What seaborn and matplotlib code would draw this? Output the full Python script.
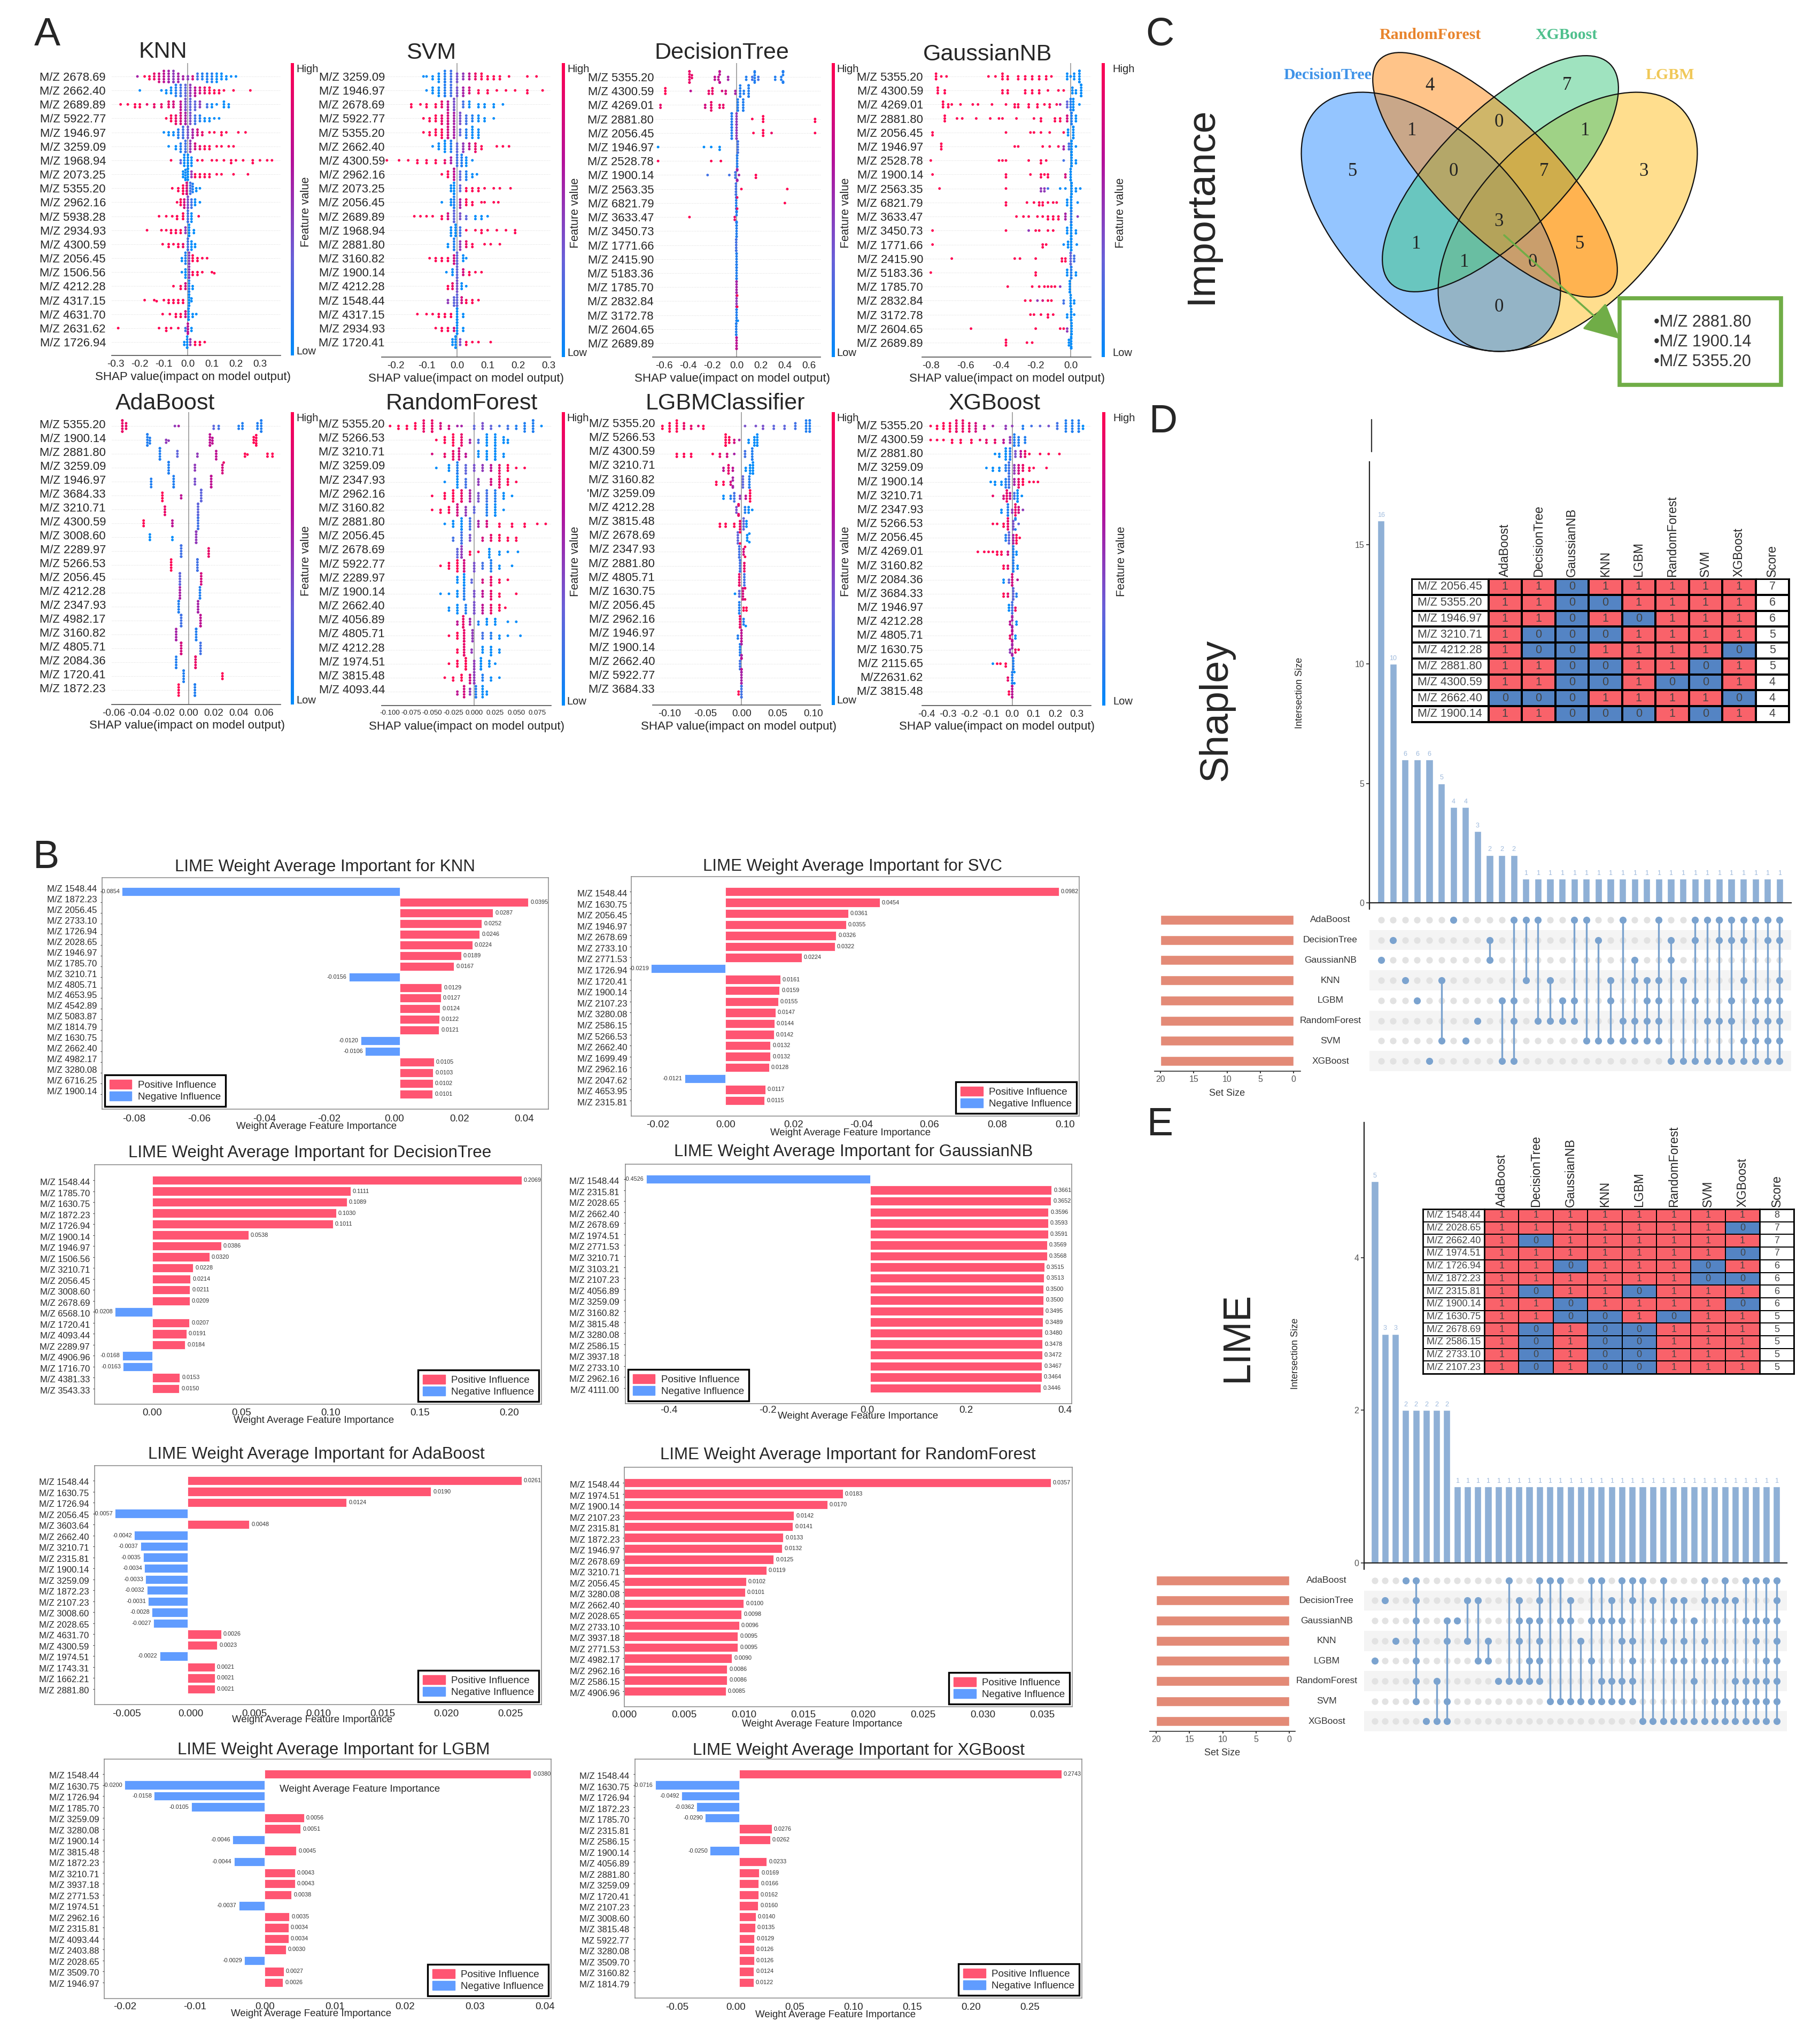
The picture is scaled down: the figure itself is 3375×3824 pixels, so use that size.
import warnings
import numpy as np
import pandas as pd
import matplotlib
matplotlib.use("Agg")
import matplotlib.pyplot as plt
import seaborn as sns
from matplotlib.colors import LinearSegmentedColormap, ListedColormap
from matplotlib.patches import Ellipse, Patch, Rectangle
from matplotlib.transforms import ScaledTranslation

warnings.filterwarnings("ignore")

W, H = 3375, 3824

# Panel A: SHAP rows as (shap value, number of dots, feature value)
knn_shap_labels = ["M/Z 2678.69", "M/Z 2662.40", "M/Z 2689.89", "M/Z 5922.77", "M/Z 1946.97", "M/Z 3259.09", "M/Z 1968.94", "M/Z 2073.25", "M/Z 5355.20", "M/Z 2962.16", "M/Z 5938.28", "M/Z 2934.93", "M/Z 4300.59", "M/Z 2056.45", "M/Z 1506.56", "M/Z 4212.28", "M/Z 4317.15", "M/Z 4631.70", "M/Z 2631.62", "M/Z 1726.94"]
knn_shap_rows = [
    [(-.21,1,.6),(-.18,1,1),(-.16,2,1),(-.14,3,.9),(-.12,4,.8),(-.10,5,.7),(-.08,6,.6),(-.06,6,.5),(-.04,4,.6),(-.02,2,.6),(0,2,.5),(.02,2,.8),(.04,3,.2),(.06,3,.1),(.08,4,.1),(.10,4,.1),(.12,4,0),(.14,3,0),(.16,2,0),(.18,1,0),(.2,1,0)],
    [(-.2,1,0),(-.11,1,0),(-.09,2,0),(-.07,3,0),(-.05,5,.1),(-.03,6,.2),(-.01,5,.3),(.01,5,.5),(.03,4,.7),(.05,3,.8),(.07,3,.9),(.09,3,1),(.11,2,1),(.13,2,1),(.15,1,1),(.19,1,1),(.26,1,1)],
    [(-.28,1,1),(-.25,1,1),(-.22,2,1),(-.2,2,1),(-.17,1,.9),(-.14,2,.9),(-.11,2,.9),(-.08,3,.9),(-.06,3,.8),(-.03,4,.7),(-.01,6,.4),(.01,5,.3),(.03,4,.3),(.05,3,.5),(.08,2,.2),(.1,2,0),(.12,1,0),(.15,3,0),(.17,2,0)],
    [(-.09,1,1),(-.07,3,1),(-.05,4,.9),(-.03,5,.8),(-.01,6,.6),(.01,5,.4),(.03,4,.2),(.05,3,.1),(.07,2,0),(.09,2,0),(.11,1,0),(.13,1,0)],
    [(-.1,1,0),(-.08,2,0),(-.06,2,0),(-.04,4,.1),(-.02,6,.2),(0,5,.4),(.02,4,.6),(.04,3,.8),(.06,2,.9),(.09,1,1),(.11,1,1),(.14,2,1),(.16,1,1),(.21,1,1),(.24,1,1)],
    [(-.08,1,0),(-.05,2,0),(-.03,4,.1),(-.01,6,.2),(.01,5,.5),(.03,3,.8),(.05,2,.9),(.07,2,1),(.09,2,1),(.12,1,1),(.14,1,1),(.17,1,1),(.19,1,1)],
    [(-.07,1,1),(-.03,2,.3),(-.015,5,0),(0,6,0),(.015,4,0),(.04,1,1),(.06,1,1),(.1,1,1),(.12,1,1),(.15,1,1),(.18,2,1),(.2,1,1),(.23,1,1),(.27,2,1),(.3,1,1),(.33,1,1),(.35,1,1)],
    [(-.02,3,0),(-.01,5,0),(0,6,0),(.015,3,.5),(.03,2,1),(.05,2,1),(.07,2,1),(.09,2,1),(.12,1,1),(.14,1,1),(.19,1,1),(.25,1,1)],
    [(-.065,1,1),(-.04,2,1),(-.02,4,1),(-.005,6,.8),(.01,5,.2),(.02,4,.1),(.035,2,0),(.05,1,0)],
    [(-.045,1,1),(-.03,3,1),(-.015,4,.8),(0,6,.4),(.015,4,.2),(.03,3,0),(.05,1,0)],
    [(-.12,1,1),(-.09,1,1),(-.065,1,1),(-.045,2,1),(-.02,3,1),(0,6,.2),(.015,4,0),(.045,1,1)],
    [(-.17,1,1),(-.11,1,1),(-.09,1,1),(-.07,2,1),(-.05,2,1),(-.03,2,1),(-.01,3,.5),(.005,6,0),(.025,2,0)],
    [(-.105,1,1),(-.08,2,1),(-.06,1,1),(-.04,2,1),(-.02,2,.9),(0,6,.2),(.015,4,0),(.03,2,0)],
    [(-.025,2,0),(-.01,5,.1),(.005,6,.5),(.02,3,1),(.04,2,1),(.06,1,1),(.08,1,1)],
    [(-.025,1,0),(-.01,4,0),(.005,6,.5),(.02,2,1),(.04,2,1),(.06,1,1),(.1,1,1),(.11,1,1)],
    [(-.06,1,1),(-.03,2,1),(-.01,3,.8),(.005,6,.1),(.02,2,0)],
    [(-.18,1,1),(-.14,1,1),(-.13,1,1),(-.1,1,1),(-.08,2,1),(-.06,2,1),(-.04,2,1),(-.02,2,1),(.005,7,0),(.015,2,0)],
    [(-.105,1,1),(-.075,1,1),(-.05,2,1),(-.03,2,1),(-.01,3,.8),(.003,6,0),(.02,2,0),(.035,1,0)],
    [(-.29,1,1),(-.12,1,1),(-.09,2,1),(-.07,1,1),(-.04,1,1),(-.01,2,.2),(0,5,.7),(.015,2,0)],
    [(-.015,2,0),(-.003,6,0),(.01,3,.5),(.03,2,1),(.05,2,1),(.07,1,1)],
]
svm_shap_labels = ["M/Z 3259.09", "M/Z 1946.97", "M/Z 2678.69", "M/Z 5922.77", "M/Z 5355.20", "M/Z 2662.40", "M/Z 4300.59", "M/Z 2962.16", "M/Z 2073.25", "M/Z 2056.45", "M/Z 2689.89", "M/Z 1968.94", "M/Z 2881.80", "M/Z 3160.82", "M/Z 1900.14", "M/Z 4212.28", "M/Z 1548.44", "M/Z 4317.15", "M/Z 2934.93", "M/Z 1720.41"]
svm_shap_rows = [
    [(-.11,1,0),(-.1,1,0),(-.08,2,0),(-.06,4,0),(-.04,6,.1),(-.02,5,.2),(0,4,.4),(.02,3,.5),(.04,3,.7),(.06,3,.9),(.08,3,1),(.1,2,1),(.12,2,1),(.14,2,1),(.17,1,1),(.23,1,1),(.26,1,1)],
    [(-.1,1,0),(-.08,3,0),(-.06,4,0),(-.04,6,.1),(-.02,5,.2),(0,4,.4),(.02,4,.6),(.04,3,.8),(.07,2,1),(.1,2,1),(.13,1,1),(.16,1,1),(.19,1,1),(.23,2,1),(.28,1,1)],
    [(-.15,2,1),(-.12,1,1),(-.1,2,1),(-.07,2,1),(-.05,3,.9),(-.03,4,.7),(-.01,6,.4),(.02,3,.2),(.04,3,0),(.07,2,0),(.09,2,0),(.12,2,0),(.15,1,0)],
    [(-.11,1,1),(-.09,2,1),(-.07,3,1),(-.05,4,.9),(-.03,6,.8),(-.01,5,.6),(.01,5,.4),(.03,4,.2),(.05,3,.1),(.07,3,0),(.09,2,0),(.12,1,0)],
    [(-.11,1,1),(-.09,2,1),(-.07,3,1),(-.05,4,1),(-.03,6,.8),(-.01,5,.6),(.01,3,.3),(.03,4,.1),(.05,5,0),(.07,4,0)],
    [(-.08,1,0),(-.06,3,0),(-.04,5,0),(-.02,5,.1),(0,4,.3),(.02,4,.5),(.04,3,.7),(.06,4,.9),(.08,2,1),(.13,1,1),(.15,1,1),(.17,1,1)],
    [(-.23,1,1),(-.19,1,1),(-.16,1,1),(-.13,2,1),(-.1,2,1),(-.07,2,1),(-.04,2,.9),(-.02,3,.6),(0,5,.2),(.015,6,.1),(.03,4,0),(.05,1,0)],
    [(-.05,1,1),(-.03,3,1),(-.01,5,.7),(.01,4,.3),(.03,4,.1),(.05,2,0),(.065,1,0)],
    [(-.02,3,0),(-.01,6,0),(.01,3,.3),(.03,2,1),(.05,2,1),(.07,2,1),(.09,1,1),(.12,1,1),(.14,1,1),(.175,1,1)],
    [(-.05,1,0),(-.02,3,0),(-.01,6,.1),(.01,4,.6),(.03,3,1),(.05,2,1),(.08,1,1),(.09,1,1),(.12,1,1),(.135,1,1)],
    [(-.14,1,1),(-.12,1,1),(-.1,1,1),(-.08,1,1),(-.05,2,1),(-.03,3,.8),(-.01,6,.3),(.01,3,.4),(.03,2,.3),(.06,2,0),(.08,2,0),(.1,1,0)],
    [(-.02,4,0),(-.005,6,0),(.01,4,.2),(.03,1,1),(.06,1,1),(.08,2,1),(.1,1,1),(.13,1,1),(.16,1,1),(.19,2,1)],
    [(-.03,2,0),(-.01,6,.1),(.01,4,.5),(.03,3,.9),(.05,2,1),(.09,1,1),(.11,1,1),(.14,1,1)],
    [(-.09,1,1),(-.07,2,1),(-.05,2,1),(-.03,2,1),(-.01,4,.8),(0,6,.3),(.02,3,0),(.03,1,0)],
    [(-.035,1,0),(-.015,3,0),(0,6,.3),(.02,3,.8),(.04,2,1),(.06,1,1),(.08,1,1)],
    [(-.03,2,1),(-.015,3,.9),(0,5,.4),(.015,3,0),(.03,1,0)],
    [(-.03,2,.5),(-.01,4,.3),(0,6,.3),(.015,3,.8),(.03,2,1),(.05,2,1),(.07,1,1)],
    [(-.13,1,1),(-.1,1,1),(-.08,1,1),(-.06,2,1),(-.04,2,1),(-.02,2,1),(0,7,0),(.02,2,0)],
    [(-.07,1,1),(-.05,2,1),(-.03,2,1),(-.01,2,.8),(0,7,0),(.02,2,0)],
    [(-.015,3,0),(-.005,7,0),(.01,3,.4),(.03,2,1),(.05,1,1),(.07,1,1),(.11,1,1)],
]
dt_shap_labels = ["M/Z 5355.20", "M/Z 4300.59", "M/Z 4269.01", "M/Z 2881.80", "M/Z 2056.45", "M/Z 1946.97", "M/Z 2528.78", "M/Z 1900.14", "M/Z 2563.35", "M/Z 6821.79", "M/Z 3633.47", "M/Z 3450.73", "M/Z 1771.66", "M/Z 2415.90", "M/Z 5183.36", "M/Z 1785.70", "M/Z 2832.84", "M/Z 3172.78", "M/Z 2604.65", "M/Z 2689.89"]
dt_shap_rows = [
    [(-.39,7,.9),(-.37,2,.9),(-.18,2,.7),(-.15,2,.7),(-.14,6,.7),(-.07,2,.6),(.08,2,.1),(.13,2,.2),(.15,6,.1),(.18,2,.2),(.32,2,.1),(.37,2,.1),(.385,7,.1)],
    [(-.59,3,1),(-.38,1,.7),(-.23,2,.9),(-.2,3,.9),(-.12,1,.8),(-.09,2,.8),(-.01,2,.6),(.03,6,.1),(.06,2,.1),(.1,7,.1)],
    [(-.63,2,.9),(-.26,2,.8),(-.21,4,.9),(-.14,2,.9),(-.11,2,.9),(.01,6,.1),(.055,6,.1)],
    [(-.04,7,.1),(0,6,.5),(.13,1,1),(.22,3,1),(.65,2,1)],
    [(-.04,7,.1),(0,6,.5),(.14,1,1),(.22,3,1),(.29,1,.9),(.65,1,1)],
    [(-.65,1,0),(-.27,1,0),(-.21,1,0),(-.14,2,0),(.01,7,.2)],
    [(-.65,1,1),(-.21,1,1),(-.13,1,1),(.005,7,.1)],
    [(-.24,1,.2),(-.06,1,.2),(-.01,3,.2),(.005,7,.6),(.02,1,.6),(.16,2,1)],
    [(-.005,6,.2),(.04,1,1),(.42,1,1)],
    [(-.003,7,.1),(.005,2,.9),(.4,1,1)],
    [(-.39,1,1),(-.015,2,.9),(0,7,.1)],
    [(0,7,.1)],
    [(-.003,7,.2)],
    [(0,7,.1)],
    [(0,7,.1)],
    [(0,7,.6)],
    [(0,6,.5),(.005,2,1)],
    [(0,7,.1),(.01,1,0)],
    [(-.003,7,.1)],
    [(0,7,.7)],
]
nb_shap_labels = ["M/Z 5355.20", "M/Z 4300.59", "M/Z 4269.01", "M/Z 2881.80", "M/Z 2056.45", "M/Z 1946.97", "M/Z 2528.78", "M/Z 1900.14", "M/Z 2563.35", "M/Z 6821.79", "M/Z 3633.47", "M/Z 3450.73", "M/Z 1771.66", "M/Z 2415.90", "M/Z 5183.36", "M/Z 1785.70", "M/Z 2832.84", "M/Z 3172.78", "M/Z 2604.65", "M/Z 2689.89"]
nb_shap_rows = [
    [(-.77,3,1),(-.74,1,1),(-.71,1,1),(-.47,1,1),(-.43,1,1),(-.39,3,1),(-.36,2,1),(-.3,2,1),(-.26,2,1),(-.22,2,1),(-.18,2,1),(-.14,2,1),(-.11,1,1),(-.02,3,0),(0,1,0),(.02,3,0),(.05,7,0)],
    [(-.76,3,1),(-.72,2,1),(-.39,2,1),(-.36,2,1),(-.26,2,1),(-.22,2,1),(-.18,2,1),(-.13,1,1),(-.07,1,1),(-.04,1,1),(.01,3,0),(.03,2,0),(.06,7,0)],
    [(-.73,3,1),(-.7,2,1),(-.68,1,1),(-.63,1,1),(-.56,1,1),(-.53,1,1),(-.45,1,1),(-.37,1,1),(-.32,2,1),(-.3,2,1),(-.24,2,1),(-.19,2,1),(-.15,1,1),(-.12,2,1),(-.08,1,1),(-.06,1,.6),(-.02,3,.3),(0,5,.1),(.015,6,0),(.05,1,0)],
    [(-.72,3,1),(-.65,1,1),(-.62,1,1),(-.54,1,1),(-.46,1,1),(-.41,1,1),(-.39,1,1),(-.31,1,1),(-.21,1,1),(-.17,2,1),(-.09,2,1),(-.06,2,1),(-.02,3,.8),(.005,7,.1),(.03,3,0)],
    [(-.79,2,1),(-.37,1,1),(-.23,1,1),(-.21,1,1),(-.17,1,1),(-.12,1,1),(-.04,1,1),(-.015,3,0),(.015,7,0)],
    [(-.74,3,1),(-.32,1,1),(-.3,1,1),(-.16,1,1),(-.12,1,1),(-.07,1,1),(-.04,2,.6),(-.01,3,.2),(.005,7,0),(.03,1,0)],
    [(-.8,1,1),(-.41,1,1),(-.39,1,1),(-.37,1,1),(-.24,1,1),(-.17,2,1),(-.14,1,1),(-.04,1,.2),(.005,7,0),(.03,2,0)],
    [(-.79,1,1),(-.37,2,1),(-.23,1,1),(-.17,2,1),(-.15,1,1),(-.13,2,1),(-.03,2,.8),(0,6,0)],
    [(-.75,1,1),(-.37,1,1),(-.17,2,.5),(-.15,2,.5),(-.13,1,.2),(-.06,1,0),(-.03,1,0),(.005,7,0),(.03,2,0),(.055,1,0)],
    [(-.37,2,1),(-.25,1,1),(-.21,1,1),(-.18,2,1),(-.16,2,1),(-.13,1,1),(-.1,1,1),(-.08,1,1),(-.02,3,0),(.003,7,0),(.04,1,0)],
    [(-.31,1,1),(-.27,1,1),(-.24,1,1),(-.19,1,1),(-.16,1,1),(-.13,2,1),(-.1,2,1),(-.07,2,1),(-.03,3,.6),(.003,7,.1),(.04,1,.5)],
    [(-.79,1,1),(-.37,1,1),(-.24,1,.5),(-.2,1,1),(-.18,1,1),(-.13,1,1),(-.1,1,1),(-.02,3,0),(.003,7,0),(.03,2,0)],
    [(-.79,1,1),(-.16,2,1),(-.14,1,1),(-.04,1,0),(-.015,3,0),(.003,7,0),(.035,1,0)],
    [(-.68,1,1),(-.32,1,1),(-.29,1,1),(-.2,1,1),(-.05,2,1),(-.03,2,1),(0,7,.3),(.02,3,.2)],
    [(-.8,1,1),(-.2,2,1),(-.02,3,0),(.003,7,.1),(.03,2,0)],
    [(-.36,1,1),(-.22,1,1),(-.18,1,1),(-.15,1,1),(-.13,1,1),(-.11,1,1),(-.09,1,1),(-.06,1,.5),(-.005,6,0)],
    [(-.26,1,1),(-.23,1,1),(-.19,1,.5),(-.16,1,.8),(-.13,1,1),(-.11,1,1),(-.04,2,.2),(0,6,0),(.02,2,0)],
    [(-.23,1,1),(-.21,1,1),(-.17,1,1),(-.13,2,1),(-.1,1,1),(-.02,2,0),(.003,6,0),(.02,1,0)],
    [(-.57,1,1),(-.2,1,1),(-.06,1,1),(-.04,1,1),(-.02,2,.5),(.005,6,0)],
    [(-.37,3,1),(-.25,1,1),(-.22,1,1),(-.01,3,0),(.003,7,0)],
]
ada_shap_labels = ["M/Z 5355.20", "M/Z 1900.14", "M/Z 2881.80", "M/Z 3259.09", "M/Z 1946.97", "M/Z 3684.33", "M/Z 3210.71", "M/Z 4300.59", "M/Z 3008.60", "M/Z 2289.97", "M/Z 5266.53", "M/Z 2056.45", "M/Z 4212.28", "M/Z 2347.93", "M/Z 4982.17", "M/Z 3160.82", "M/Z 4805.71", "M/Z 2084.36", "M/Z 1720.41", "M/Z 1872.23"]
ada_shap_rows = [
    [(-.053,7,.9),(-.05,3,.9),(-.011,1,.5),(-.008,1,.6),(.02,2,.3),(.024,2,.2),(.04,2,.1),(.043,3,.1),(.055,3,.1),(.058,7,.1)],
    [(-.033,7,.1),(-.031,3,.1),(-.018,2,.5),(-.016,1,.5),(.017,6,.7),(.019,3,.7),(.052,3,1),(.054,5,1)],
    [(-.023,7,.1),(-.009,3,.3),(.007,2,.5),(.022,4,.7),(.045,2,1),(.047,1,1),(.063,2,1),(.067,2,1)],
    [(-.016,7,.1),(.005,3,.5),(.027,4,.8),(.028,1,.9)],
    [(-.03,4,.1),(-.012,6,.1),(.005,3,.4),(.018,7,.7)],
    [(-.021,4,1),(-.006,2,.7),(.01,7,.3)],
    [(-.019,4,.9),(.0075,7,.3)],
    [(-.036,3,1),(-.013,3,.7),(.0075,7,.2)],
    [(-.031,3,0),(-.013,2,0),(.006,7,.5)],
    [(-.006,7,.2),(.016,4,.9)],
    [(-.014,5,1),(.007,7,.2)],
    [(-.007,7,.3),(.01,5,.8)],
    [(-.007,6,.6),(.009,6,.1)],
    [(-.008,7,.1),(.0075,6,.6)],
    [(-.006,7,.2),(.0095,6,.7)],
    [(-.01,6,.6),(.006,7,.1)],
    [(-.006,7,.8),(.0095,5,.2)],
    [(-.01,6,.1),(.0055,7,.9)],
    [(-.004,7,.1),(.027,3,1)],
    [(-.008,5,1),(.005,7,.1)],
]
rf_shap_labels = ["M/Z 5355.20", "M/Z 5266.53", "M/Z 3210.71", "M/Z 3259.09", "M/Z 2347.93", "M/Z 2962.16", "M/Z 3160.82", "M/Z 2881.80", "M/Z 2056.45", "M/Z 2678.69", "M/Z 5922.77", "M/Z 2289.97", "M/Z 1900.14", "M/Z 2662.40", "M/Z 4056.89", "M/Z 4805.71", "M/Z 4212.28", "M/Z 1974.51", "M/Z 3815.48", "M/Z 4093.44"]
rf_shap_rows = [
    [(-.1,1,1),(-.09,2,1),(-.08,2,1),(-.07,3,1),(-.06,5,.9),(-.05,6,.9),(-.04,3,.8),(-.03,2,.8),(-.02,1,.6),(-.015,1,.6),(0,2,.3),(.01,3,.4),(.02,2,.3),(.03,1,.2),(.04,2,.2),(.05,2,.1),(.06,4,.1),(.07,7,.1),(.08,1,0)],
    [(-.045,1,1),(-.035,3,1),(-.025,5,1),(-.015,5,.9),(-.005,2,.6),(.005,2,.2),(.015,5,0),(.025,6,0),(.035,3,0),(.04,2,0)],
    [(-.05,1,.8),(-.035,2,.9),(-.025,4,.9),(-.018,5,.8),(-.01,2,.7),(.005,3,0),(.015,4,0),(.025,6,0),(.035,2,0)],
    [(-.045,1,0),(-.03,3,0),(-.02,6,.1),(-.01,4,.3),(0,3,.4),(.01,3,.5),(.02,3,.7),(.03,4,.9),(.04,3,1),(.05,1,1),(.06,1,1)],
    [(-.035,1,0),(-.02,5,0),(-.01,4,.2),(.005,3,.5),(.02,3,.8),(.03,5,.9),(.04,3,1),(.05,1,1)],
    [(-.05,1,1),(-.035,3,1),(-.025,5,1),(-.015,6,.9),(-.005,5,.6),(.005,4,.4),(.015,5,.2),(.025,5,.1),(.035,3,0),(.045,1,0)],
    [(-.05,1,1),(-.04,2,1),(-.03,3,1),(-.02,5,.8),(-.01,4,.5),(0,3,.3),(.015,5,.1),(.025,6,0),(.035,1,0)],
    [(-.035,1,0),(-.025,3,0),(-.015,6,0),(-.005,5,.2),(.005,3,.6),(.015,3,.8),(.03,2,1),(.045,2,1),(.06,2,1),(.075,1,1),(.085,1,1)],
    [(-.025,2,.2),(-.015,6,.2),(-.005,3,.4),(.01,2,.8),(.02,3,.9),(.03,3,1),(.04,2,1),(.05,2,1)],
    [(-.02,4,.3),(-.015,6,.5),(-.005,2,1),(.005,1,1),(.018,4,0),(.03,2,0),(.04,1,0),(.052,1,0)],
    [(-.04,1,1),(-.03,3,1),(-.02,5,1),(-.012,6,.8),(0,4,.4),(.01,3,.2),(.02,5,.1),(.03,2,0),(.045,1,0)],
    [(-.02,3,0),(-.012,6,0),(-.003,2,.3),(.01,2,.8),(.02,4,.9),(.03,2,1),(.04,1,1)],
    [(-.04,1,0),(-.03,1,0),(-.02,3,0),(-.012,6,.1),(0,3,.4),(.01,3,.7),(.02,4,.9),(.03,2,1),(.05,1,1)],
    [(-.03,2,0),(-.02,4,0),(-.01,4,.1),(0,6,.4),(.01,4,.7),(.02,4,.9),(.03,3,1),(.037,1,1)],
    [(-.02,2,.7),(-.013,6,.9),(-.005,3,.6),(.005,2,.1),(.015,3,0),(.025,3,0),(.04,1,0),(.05,1,0)],
    [(-.03,1,1),(-.02,3,1),(-.012,6,.9),(-.002,5,.5),(.01,3,.2),(.02,3,.1),(.03,2,0),(.04,1,0),(.055,1,0)],
    [(-.02,2,1),(-.012,6,.9),(-.003,2,.5),(.01,3,0),(.02,4,0),(.03,2,0)],
    [(-.03,1,1),(-.02,3,1),(-.01,6,1),(0,4,.5),(.008,6,0),(.018,3,0),(.025,1,0)],
    [(-.035,1,1),(-.025,2,1),(-.015,3,1),(-.005,4,.8),(0,6,.5),(.01,3,.1),(.02,2,0),(.03,1,0)],
    [(-.02,2,.7),(-.012,5,.8),(-.005,3,.5),(.002,6,.1),(.01,5,0),(.015,2,0)],
]
lgbm_shap_labels = ["M/Z 5355.20", "M/Z 5266.53", "M/Z 4300.59", "M/Z 3210.71", "M/Z 3160.82", "'M/Z 3259.09", "M/Z 4212.28", "M/Z 3815.48", "M/Z 2678.69", "M/Z 2347.93", "M/Z 2881.80", "M/Z 4805.71", "M/Z 1630.75", "M/Z 2056.45", "M/Z 2962.16", "M/Z 1946.97", "M/Z 1900.14", "M/Z 2662.40", "M/Z 5922.77", "M/Z 3684.33"]
lgbm_shap_rows = [
    [(-.11,2,1),(-.1,4,1),(-.09,5,1),(-.08,3,.9),(-.07,2,.9),(-.06,1,.8),(-.053,2,1),(.005,1,.4),(.02,1,.4),(.03,2,.4),(.045,2,.3),(.06,2,.3),(.075,3,.2),(.09,5,.1),(.095,7,.1)],
    [(-.022,6,1),(-.017,3,1),(-.01,2,.8),(-.003,1,.6),(.01,2,0),(.018,4,0),(.022,6,0)],
    [(-.09,2,1),(-.08,2,1),(-.07,2,1),(-.04,1,1),(-.03,2,.9),(-.02,2,.8),(-.01,1,.6),(.005,3,.2),(.015,6,.1)],
    [(-.025,2,.7),(-.018,4,.9),(-.012,2,.7),(.006,2,0),(.012,4,0),(.016,6,0)],
    [(-.035,2,1),(-.025,2,1),(-.015,2,.8),(-.012,4,.6),(.002,5,.3),(.011,6,.1)],
    [(-.025,2,0),(-.015,2,.1),(-.01,4,.2),(-.002,2,.5),(.006,2,.7),(.012,5,1)],
    [(-.007,3,.4),(-.004,6,.9),(.005,3,.1),(.01,3,0),(.015,1,0)],
    [(-.03,2,1),(-.022,2,1),(-.01,2,1),(-.002,4,.9),(.003,5,.3),(.007,3,0)],
    [(-.005,5,.3),(-.002,2,1),(.008,3,0),(.011,2,0)],
    [(-.003,6,.2),(.003,3,.8),(.005,2,1)],
    [(-.002,7,.2),(.004,4,.9)],
    [(-.003,6,.9),(.004,5,.2)],
    [(-.009,1,0),(-.003,3,.3),(.002,6,.8),(.005,3,.9)],
    [(-.003,6,.1),(.003,2,1),(.007,2,1)],
    [(-.002,6,.9),(.003,3,.1),(.006,1,0)],
    [(-.005,2,.1),(0,6,.7)],
    [(-.002,5,.1),(0,5,.6)],
    [(-.002,4,.2),(0,6,.7)],
    [(0,7,.6)],
    [(-.004,2,1),(0,7,.2)],
]
xgb_shap_labels = ["M/Z 5355.20", "M/Z 4300.59", "M/Z 2881.80", "M/Z 3259.09", "M/Z 1900.14", "M/Z 3210.71", "M/Z 2347.93", "M/Z 5266.53", "M/Z 2056.45", "M/Z 4269.01", "M/Z 3160.82", "M/Z 2084.36", "M/Z 3684.33", "M/Z 1946.97", "M/Z 4212.28", "M/Z 4805.71", "M/Z 1630.75", "M/Z 2115.65", "M/Z2631.62", "M/Z 3815.48"]
xgb_shap_rows = [
    [(-.38,1,1),(-.35,2,1),(-.32,3,1),(-.29,4,1),(-.26,6,.9),(-.23,5,.9),(-.2,4,.9),(-.17,4,.8),(-.13,2,.7),(-.09,1,.6),(-.03,2,.5),(0,1,.5),(.05,2,.1),(.09,1,.2),(.13,1,.3),(.17,1,.4),(.21,3,.2),(.25,5,.1),(.28,6,.1),(.31,6,.1),(.33,2,0)],
    [(-.38,1,1),(-.35,1,1),(-.32,1,1),(-.28,2,1),(-.24,2,1),(-.19,2,1),(-.15,1,.9),(-.12,2,.9),(-.08,2,.9),(-.04,2,.7),(-.01,3,.5),(.01,6,.1),(.03,4,.1),(.06,3,.1)],
    [(-.08,1,0),(-.06,2,0),(-.03,5,0),(-.01,6,.1),(.015,3,.4),(.04,3,.7),(.06,3,.9),(.08,1,1),(.13,1,1),(.17,1,1),(.22,1,1)],
    [(-.12,1,0),(-.09,2,0),(-.06,2,0),(-.03,3,.1),(-.015,6,.2),(.01,4,.5),(.03,4,.8),(.05,3,.9),(.08,2,1),(.1,1,1),(.16,1,1)],
    [(-.1,1,0),(-.08,2,0),(-.05,2,0),(-.03,4,.1),(-.015,6,.2),(.01,3,.6),(.03,4,.9),(.05,3,1),(.08,1,1),(.1,1,1),(.12,1,1)],
    [(-.09,1,.9),(-.04,2,.8),(-.025,5,.9),(-.01,3,.7),(.01,3,.2),(.025,6,0),(.045,1,0)],
    [(-.05,2,0),(-.02,6,.1),(0,2,.5),(.015,5,.9),(.03,3,.8),(.05,1,.5)],
    [(-.09,1,1),(-.07,1,1),(-.04,2,1),(-.02,5,.9),(.005,4,.4),(.015,3,.1),(.03,1,.3)],
    [(-.03,3,.1),(-.015,5,.3),(.005,4,.6),(.02,4,1),(.035,1,1)],
    [(-.16,1,1),(-.13,1,1),(-.11,1,1),(-.09,1,1),(-.07,2,1),(-.05,2,1),(-.02,2,.8),(.005,6,.1),(.02,2,0)],
    [(-.04,2,1),(-.02,2,.9),(.005,6,.1),(.025,2,0)],
    [(-.04,2,0),(-.015,2,.3),(0,6,.8),(.025,1,.7)],
    [(-.04,2,1),(-.02,2,.9),(.005,6,.3),(.02,2,.1)],
    [(-.015,3,0),(0,5,.2),(.015,2,.9)],
    [(-.01,2,.7),(0,6,.6),(.02,2,0)],
    [(-.01,2,.9),(0,6,.7),(.015,2,0)],
    [(-.01,2,.5),(0,6,.6),(.015,2,.9),(.03,1,1)],
    [(-.09,1,0),(-.07,1,1),(-.055,1,1),(-.03,2,1),(.005,6,.1)],
    [(-.02,2,.9),(0,6,.1),(.01,2,0)],
    [(-.015,2,1),(0,7,.7)],
]

# Panel B: LIME mean weights
lime_knn_labels = ["M/Z 1548.44", "M/Z 1872.23", "M/Z 2056.45", "M/Z 2733.10", "M/Z 1726.94", "M/Z 2028.65", "M/Z 1946.97", "M/Z 1785.70", "M/Z 3210.71", "M/Z 4805.71", "M/Z 4653.95", "M/Z 4542.89", "M/Z 5083.87", "M/Z 1814.79", "M/Z 1630.75", "M/Z 2662.40", "M/Z 4982.17", "M/Z 3280.08", "M/Z 6716.25", "M/Z 1900.14"]
lime_knn_values = [-0.0854, 0.0395, 0.0287, 0.0252, 0.0246, 0.0224, 0.0189, 0.0167, -0.0156, 0.0129, 0.0127, 0.0124, 0.0122, 0.0121, -0.0120, -0.0106, 0.0105, 0.0103, 0.0102, 0.0101]
lime_svc_labels = ["M/Z 1548.44", "M/Z 1630.75", "M/Z 2056.45", "M/Z 1946.97", "M/Z 2678.69", "M/Z 2733.10", "M/Z 2771.53", "M/Z 1726.94", "M/Z 1720.41", "M/Z 1900.14", "M/Z 2107.23", "M/Z 3280.08", "M/Z 2586.15", "M/Z 5266.53", "M/Z 2662.40", "M/Z 1699.49", "M/Z 2962.16", "M/Z 2047.62", "M/Z 4653.95", "M/Z 2315.81"]
lime_svc_values = [0.0982, 0.0454, 0.0361, 0.0355, 0.0326, 0.0322, 0.0224, -0.0219, 0.0161, 0.0159, 0.0155, 0.0147, 0.0144, 0.0142, 0.0132, 0.0132, 0.0128, -0.0121, 0.0117, 0.0115]
lime_dt_labels = ["M/Z 1548.44", "M/Z 1785.70", "M/Z 1630.75", "M/Z 1872.23", "M/Z 1726.94", "M/Z 1900.14", "M/Z 1946.97", "M/Z 1506.56", "M/Z 3210.71", "M/Z 2056.45", "M/Z 3008.60", "M/Z 2678.69", "M/Z 6568.10", "M/Z 1720.41", "M/Z 4093.44", "M/Z 2289.97", "M/Z 4906.96", "M/Z 1716.70", "M/Z 4381.33", "M/Z 3543.33"]
lime_dt_values = [0.2069, 0.1111, 0.1089, 0.1030, 0.1011, 0.0538, 0.0386, 0.0320, 0.0228, 0.0214, 0.0211, 0.0209, -0.0208, 0.0207, 0.0191, 0.0184, -0.0168, -0.0163, 0.0153, 0.0150]
lime_nb_labels = ["M/Z 1548.44", "M/Z 2315.81", "M/Z 2028.65", "M/Z 2662.40", "M/Z 2678.69", "M/Z 1974.51", "M/Z 2771.53", "M/Z 3210.71", "M/Z 3103.21", "M/Z 2107.23", "M/Z 4056.89", "M/Z 3259.09", "M/Z 3160.82", "M/Z 3815.48", "M/Z 3280.08", "M/Z 2586.15", "M/Z 3937.18", "M/Z 2733.10", "M/Z 2962.16", "M/Z 4111.00"]
lime_nb_values = [-0.4526, 0.3661, 0.3652, 0.3596, 0.3593, 0.3591, 0.3569, 0.3568, 0.3515, 0.3513, 0.3500, 0.3500, 0.3495, 0.3489, 0.3480, 0.3478, 0.3472, 0.3467, 0.3464, 0.3446]
lime_ada_labels = ["M/Z 1548.44", "M/Z 1630.75", "M/Z 1726.94", "M/Z 2056.45", "M/Z 3603.64", "M/Z 2662.40", "M/Z 3210.71", "M/Z 2315.81", "M/Z 1900.14", "M/Z 3259.09", "M/Z 1872.23", "M/Z 2107.23", "M/Z 3008.60", "M/Z 2028.65", "M/Z 4631.70", "M/Z 4300.59", "M/Z 1974.51", "M/Z 1743.31", "M/Z 1662.21", "M/Z 2881.80"]
lime_ada_values = [0.0261, 0.0190, 0.0124, -0.0057, 0.0048, -0.0042, -0.0037, -0.0035, -0.0034, -0.0033, -0.0032, -0.0031, -0.0028, -0.0027, 0.0026, 0.0023, -0.0022, 0.0021, 0.0021, 0.0021]
lime_rf_labels = ["M/Z 1548.44", "M/Z 1974.51", "M/Z 1900.14", "M/Z 2107.23", "M/Z 2315.81", "M/Z 1872.23", "M/Z 1946.97", "M/Z 2678.69", "M/Z 3210.71", "M/Z 2056.45", "M/Z 3280.08", "M/Z 2662.40", "M/Z 2028.65", "M/Z 2733.10", "M/Z 3937.18", "M/Z 2771.53", "M/Z 4982.17", "M/Z 2962.16", "M/Z 2586.15", "M/Z 4906.96"]
lime_rf_values = [0.0357, 0.0183, 0.0170, 0.0142, 0.0141, 0.0133, 0.0132, 0.0125, 0.0119, 0.0102, 0.0101, 0.0100, 0.0098, 0.0096, 0.0095, 0.0095, 0.0090, 0.0086, 0.0086, 0.0085]
lime_lgbm_labels = ["M/Z 1548.44", "M/Z 1630.75", "M/Z 1726.94", "M/Z 1785.70", "M/Z 3259.09", "M/Z 3280.08", "M/Z 1900.14", "M/Z 3815.48", "M/Z 1872.23", "M/Z 3210.71", "M/Z 3937.18", "M/Z 2771.53", "M/Z 1974.51", "M/Z 2962.16", "M/Z 2315.81", "M/Z 4093.44", "M/Z 2403.88", "M/Z 2028.65", "M/Z 3509.70", "M/Z 1946.97"]
lime_lgbm_values = [0.0380, -0.0200, -0.0158, -0.0105, 0.0056, 0.0051, -0.0046, 0.0045, -0.0044, 0.0043, 0.0043, 0.0038, -0.0037, 0.0035, 0.0034, 0.0034, 0.0030, -0.0029, 0.0027, 0.0026]
lime_xgb_labels = ["M/Z 1548.44", "M/Z 1630.75", "M/Z 1726.94", "M/Z 1872.23", "M/Z 1785.70", "M/Z 2315.81", "M/Z 2586.15", "M/Z 1900.14", "M/Z 4056.89", "M/Z 2881.80", "M/Z 3259.09", "M/Z 1720.41", "M/Z 2107.23", "M/Z 3008.60", "M/Z 3815.48", "MZ 5922.77", "M/Z 3280.08", "M/Z 3509.70", "M/Z 3160.82", "M/Z 1814.79"]
lime_xgb_values = [0.2743, -0.0716, -0.0492, -0.0362, -0.0290, 0.0276, 0.0262, -0.0250, 0.0233, 0.0169, 0.0166, 0.0162, 0.0160, 0.0140, 0.0135, 0.0129, 0.0126, 0.0126, 0.0124, 0.0122]

# Panel C
venn_counts = [5, 4, 7, 3, 1, 0, 1, 0, 7, 1, 3, 5, 1, 0, 0]
venn_names = ["DecisionTree", "RandomForest", "XGBoost", "LGBM"]
venn_box_lines = ["•M/Z 2881.80", "•M/Z 1900.14", "•M/Z 5355.20"]

# Panels D and E
set_names = ["AdaBoost", "DecisionTree", "GaussianNB", "KNN", "LGBM", "RandomForest", "SVM", "XGBoost"]
shapley_sizes = [20, 20, 20, 20, 20, 20, 20, 20]
lime_sizes = [20, 20, 20, 20, 20, 20, 20, 20]
shapley_inter = [16, 10, 6, 6, 6, 5, 4, 4, 3, 2, 2, 2, 1, 1, 1, 1, 1, 1, 1, 1, 1, 1, 1, 1, 1, 1, 1, 1, 1, 1, 1, 1, 1, 1]
shapley_members = [[2], [1], [3], [4], [7], [3, 6], [0], [6], [5], [1, 2], [4, 7], [0, 4, 5, 7], [0, 3], [0, 5], [3, 5], [4, 5], [0, 4, 5], [0, 6], [1, 6], [3, 4, 6], [0, 5, 6], [2, 3, 5, 6], [3, 4, 5, 6], [0, 3, 4, 5, 6], [1, 2, 7], [3, 7], [0, 1, 4, 7], [0, 5, 7], [0, 1, 5, 7], [0, 1, 4, 5, 7], [0, 1, 3, 6, 7], [0, 4, 5, 6, 7], [0, 1, 4, 5, 6, 7], [0, 1, 3, 4, 5, 6, 7]]
lime_inter = [5, 3, 3, 2, 2, 2, 2, 2, 1, 1, 1, 1, 1, 1, 1, 1, 1, 1, 1, 1, 1, 1, 1, 1, 1, 1, 1, 1, 1, 1, 1, 1, 1, 1, 1, 1, 1, 1, 1, 1]
lime_members = [[4], [1], [3], [0], [0, 1, 2, 3, 4, 5, 6], [7], [5, 7], [2, 3, 6, 7], [2], [1, 3], [1, 4], [3, 4], [5], [0, 5], [1, 2, 3, 5], [2, 4, 5], [0, 1, 2, 3, 4, 5], [0, 6], [0, 2, 6], [1, 2, 6], [3, 6], [0, 2, 4, 6], [0, 2, 5, 6], [1, 2, 5, 6], [0, 2, 3, 5, 6], [0, 1, 3, 4, 5, 6], [0, 7], [1, 7], [0, 3, 7], [1, 2, 4, 7], [1, 3, 4, 7], [2, 5, 7], [0, 1, 3, 4, 7], [1, 4, 6, 7], [0, 1, 4, 6, 7], [1, 5, 6, 7], [0, 2, 5, 6, 7], [0, 2, 3, 5, 6, 7], [0, 2, 4, 5, 6, 7], [0, 1, 2, 3, 4, 5, 6, 7]]

table_cols = ["AdaBoost", "DecisionTree", "GaussianNB", "KNN", "LGBM", "RandomForest", "SVM", "XGBoost"]
shapley_tbl_labels = ["M/Z 2056.45", "M/Z 5355.20", "M/Z 1946.97", "M/Z 3210.71", "M/Z 4212.28", "M/Z 2881.80", "M/Z 4300.59", "M/Z 2662.40", "M/Z 1900.14"]
shapley_tbl = [[1, 1, 0, 1, 1, 1, 1, 1], [1, 1, 0, 0, 1, 1, 1, 1], [1, 1, 0, 1, 0, 1, 1, 1], [1, 0, 0, 0, 1, 1, 1, 1], [1, 0, 0, 1, 1, 1, 1, 0], [1, 1, 0, 0, 1, 1, 0, 1], [1, 1, 0, 0, 1, 0, 0, 1], [0, 0, 0, 1, 1, 1, 1, 0], [1, 1, 0, 0, 0, 1, 0, 1]]
shapley_scores = [7, 6, 6, 5, 5, 5, 4, 4, 4]
lime_tbl_labels = ["M/Z 1548.44", "M/Z 2028.65", "M/Z 2662.40", "M/Z 1974.51", "M/Z 1726.94", "M/Z 1872.23", "M/Z 2315.81", "M/Z 1900.14", "M/Z 1630.75", "M/Z 2678.69", "M/Z 2586.15", "M/Z 2733.10", "M/Z 2107.23"]
lime_tbl = [[1, 1, 1, 1, 1, 1, 1, 1], [1, 1, 1, 1, 1, 1, 1, 0], [1, 0, 1, 1, 1, 1, 1, 1], [1, 1, 1, 1, 1, 1, 1, 0], [1, 1, 0, 1, 1, 1, 0, 1], [1, 1, 1, 1, 1, 1, 0, 0], [1, 0, 1, 1, 0, 1, 1, 1], [1, 1, 0, 1, 1, 1, 1, 0], [1, 1, 0, 0, 1, 0, 1, 1], [1, 0, 1, 0, 0, 1, 1, 1], [1, 0, 1, 0, 0, 1, 1, 1], [1, 0, 1, 0, 0, 1, 1, 1], [1, 0, 1, 0, 0, 1, 1, 1]]
lime_scores = [8, 7, 7, 7, 6, 6, 6, 6, 5, 5, 5, 5, 5]

sns.set_theme(style="white")
plt.rcParams["font.family"] = ["Liberation Sans", "DejaVu Sans"]
plt.rcParams["axes.unicode_minus"] = False

shap_cmap = LinearSegmentedColormap.from_list("shap", ["#008bfb", "#6a60d8", "#b5109a", "#ff0051"])
pos_color = "#ff5572"
neg_color = "#609cff"
upset_blue = "#8fb0d6"
dot_blue = "#7ba3cf"

fig = plt.figure(figsize=(W / 100, H / 100), dpi=100, facecolor="white")


def px_axes(x0, y0, x1, y1, **kw):
    return fig.add_axes([x0 / W, 1 - y1 / H, (x1 - x0) / W, (y1 - y0) / H], **kw)


canvas = px_axes(0, 0, W, H, zorder=20)
canvas.set_xlim(0, W)
canvas.set_ylim(H, 0)
canvas.axis("off")
canvas.patch.set_alpha(0)


def put(x, y, s, size, ha="center", va="center", **kw):
    canvas.text(x, y, s, fontsize=size, ha=ha, va=va, **kw)


def shift_labels(labels, dx=0, dy=0):
    # dx, dy in pixels, dy positive is up
    off = ScaledTranslation(dx / 100, dy / 100, fig.dpi_scale_trans)
    for lab in labels:
        lab.set_transform(lab.get_transform() + off)


def row_limits(top, bottom, first, last, n):
    step = (last - first) / (n - 1)
    return (bottom - first) / step, (top - first) / step


def shap_panel(labels, rows, title, title_xy, box, xlim, ticks, fmt, first, last, pad, cbar_x, high_dx, fv_dx, name_dy=0, tick_size=13.5, xlabel_dx=0):
    left, top, right, bottom = box
    ax = px_axes(left, top, right, bottom)
    recs = [(labels[i], x, c) for i, row in enumerate(rows) for x, n, c in row for _ in range(n)]
    df = pd.DataFrame(recs, columns=["feature", "shap", "value"])
    ax.set_xlim(*xlim)
    ax.hlines(range(len(labels)), *xlim, color="#dddddd", lw=0.8, linestyles=":", zorder=0)
    ax.axvline(0, color="#999999", lw=1.2, zorder=1)
    sns.swarmplot(data=df, x="shap", y="feature", hue="value", order=labels, palette=shap_cmap, hue_norm=(0, 1),
                  size=3.5, linewidth=0, legend=False, orient="h", ax=ax, warn_thresh=1)
    ax.set_xlim(*xlim)
    ax.set_ylim(*row_limits(top, bottom, first, last, len(labels)))
    ax.set_xlabel("")
    ax.set_ylabel("")
    sns.despine(ax=ax, left=True)
    ax.spines["bottom"].set_color("#555555")
    ax.set_xticks(ticks)
    ax.set_xticklabels([fmt % t for t in ticks])
    ax.tick_params(axis="x", length=3, pad=3, labelsize=tick_size, color="#555555")
    ax.tick_params(axis="y", length=0, pad=pad * 0.72, labelsize=15.8)
    if name_dy:
        shift_labels(ax.get_yticklabels(), dy=name_dy)
    put(title_xy[0], title_xy[1], title, 31)
    put((left + right) / 2 + xlabel_dx, bottom + 40, "SHAP value(impact on model output)", 16)
    cb = px_axes(cbar_x - 3, top, cbar_x + 3, bottom)
    cb.imshow(np.linspace(1, 0, 256)[:, None], aspect="auto", cmap=shap_cmap)
    cb.axis("off")
    put(cbar_x + high_dx, top + 11, "High", 14.5, ha="left")
    put(cbar_x + high_dx, bottom - 8, "Low", 14.5, ha="left")
    put(cbar_x + fv_dx, (top + bottom) / 2 + 5, "Feature value", 15.5, rotation=90)


shap_panel(knn_shap_labels, knn_shap_rows, "KNN", (305, 97), (209, 118, 525, 665), (-0.317, 0.386), [-.3, -.2, -.1, 0, .1, .2, .3], "%.1f", 143, 640, 11, 547, 7, 25, xlabel_dx=-6)
shap_panel(svm_shap_labels, svm_shap_rows, "SVM", (807, 99), (714, 118, 1030, 668), (-0.247, 0.306), [-.2, -.1, 0, .1, .2, .3], "%.1f", 143, 640, -6, 1054, 7, 23, xlabel_dx=0)
shap_panel(dt_shap_labels, dt_shap_rows, "DecisionTree", (1350, 99), (1221, 118, 1535, 668), (-0.695, 0.695), [-.6, -.4, -.2, 0, .2, .4, .6], "%.1f", 144, 642, -2, 1559, 6, 24, xlabel_dx=-8)
shap_panel(nb_shap_labels, nb_shap_rows, "GaussianNB", (1848, 102), (1725, 118, 2041, 668), (-0.85, 0.116), [-.8, -.6, -.4, -.2, 0], "%.1f", 143, 641, -2, 2064, 17, 33, xlabel_dx=1)
shap_panel(ada_shap_labels, ada_shap_rows, "AdaBoost", (309, 755), (209, 771, 525, 1318), (-0.0615, 0.0735), [-.06, -.04, -.02, 0, .02, .04, .06], "%.2f", 797, 1291, 11, 547, 7, 25, name_dy=4, xlabel_dx=-17)
shap_panel(rf_shap_labels, rf_shap_rows, "RandomForest", (864, 755), (714, 771, 1031, 1320), (-0.110, 0.0914), [-.1, -.075, -.05, -.025, 0, .025, .05, .075], "%.3f", 797, 1294, -6, 1054, 6, 23, name_dy=5, tick_size=9.5, xlabel_dx=1)
shap_panel(lgbm_shap_labels, lgbm_shap_rows, "LGBMClassifier", (1357, 755), (1221, 771, 1535, 1319), (-0.1236, 0.110), [-.1, -.05, 0, .05, .1], "%.2f", 797, 1294, -4, 1559, 6, 24, name_dy=6, xlabel_dx=4)
shap_panel(xgb_shap_labels, xgb_shap_rows, "XGBoost", (1860, 755), (1725, 771, 2041, 1320), (-0.42, 0.367), [-.4, -.3, -.2, -.1, 0, .1, .2, .3], "%.1f", 797, 1294, -2, 2065, 17, 33, name_dy=2, xlabel_dx=-18)


def lime_panel(labels, values, model, title_x, title_y, box, xlim, ticks, tick_text, first, last, pad, name_dy, tick_dx, tick_off, xlabel_xy, legend_loc):
    left, top, right, bottom = box
    ax = px_axes(left, top, right, bottom)
    sign = np.where(np.array(values) >= 0, "Positive", "Negative")
    sns.barplot(x=values, y=labels, hue=sign, hue_order=["Positive", "Negative"], order=labels,
                palette={"Positive": pos_color, "Negative": neg_color}, dodge=False, legend=False, width=0.8,
                saturation=1, edgecolor="white", linewidth=0.6, orient="h", ax=ax)
    for bars in ax.containers:
        ax.bar_label(bars, fmt="%.4f", padding=3, fontsize=7.8, color="#333333")
    ax.set_xlim(*xlim)
    ax.set_ylim(*row_limits(top, bottom, first, last, len(labels)))
    ax.set_xticks(ticks)
    ax.set_xticklabels(tick_text)
    ax.tick_params(axis="x", length=0, pad=(tick_off - 7) * 0.72, labelsize=13.5)
    ax.tick_params(axis="y", length=2, pad=(pad - 3) * 0.72, labelsize=12, left=True, width=0.8)
    shift_labels(ax.get_xticklabels(), dx=tick_dx)
    shift_labels(ax.get_yticklabels(), dy=name_dy)
    for sp in ax.spines.values():
        sp.set_color("#888888")
        sp.set_linewidth(1.1)
    leg = ax.legend(handles=[Patch(color=pos_color, label="Positive Influence"), Patch(color=neg_color, label="Negative Influence")],
                    loc=legend_loc, fancybox=False, edgecolor="black", framealpha=1, fontsize=13.5, handlelength=2.2,
                    handleheight=1.0, labelspacing=0.18, borderpad=0.5, borderaxespad=0.25, handletextpad=0.6)
    leg.get_frame().set_linewidth(2.4)
    put(title_x, title_y, "LIME Weight Average Important for " + model, 22.5)
    put(xlabel_xy[0], xlabel_xy[1], "Weight Average Feature Importance", 13.5)


lime_panel(lime_knn_labels, lime_knn_values, "KNN", 608, 1622, (191, 1642, 1026, 2075), (-0.0915, 0.04575), [-.08, -.06, -.04, -.02, 0, .02, .04], ["-0.08", "-0.06", "-0.04", "-0.02", "0.00", "0.02", "0.04"], 1668, 2047, 10, 6, -10, 17, (592, 2107), "lower left")
lime_panel(lime_svc_labels, lime_svc_values, "SVC", 1595, 1621, (1181, 1640, 2019, 2088), (-0.0278, 0.1042), [-.02, 0, .02, .04, .06, .08, .10], ["-0.02", "0.00", "0.02", "-0.04", "0.06", "0.08", "0.10"], 1668, 2059, 8, -3, 0, 15, (1591, 2119), "lower right")
lime_panel(lime_dt_labels, lime_dt_values, "DecisionTree", 580, 2157, (177, 2179, 1013, 2627), (-0.0323, 0.218), [0, .05, .1, .15, .2], ["0.00", "0.05", "0.10", "0.15", "0.20"], 2208, 2598, 9, -3, 0, 15, (587, 2657), "lower right")
lime_panel(lime_nb_labels, lime_nb_values, "GaussianNB", 1597, 2155, (1170, 2178, 2005, 2626), (-0.4946, 0.407), [-.4, -.2, 0, .2, .4], ["-0.4", "-0.2", "0.0", "0.2", "0.4"], 2206, 2597, 12, -3, -6, 11, (1605, 2649), "lower left")
lime_panel(lime_ada_labels, lime_ada_values, "AdaBoost", 592, 2721, (177, 2742, 1013, 3189), (-0.00729, 0.02765), [-.005, 0, .005, .01, .015, .02, .025], ["-0.005", "0.000", "0.005", "0.010", "0.015", "0.020", "0.025"], 2770, 3160, 11, -2, 5, 16, (584, 3217), "lower right")
lime_panel(lime_rf_labels, lime_rf_values, "RandomForest", 1586, 2722, (1168, 2745, 2006, 3193), (0, 0.0375), [0, .005, .01, .015, .02, .025, .03, .035], ["0.000", "0.005", "0.010", "0.015", "0.020", "0.025", "0.030", "0.035"], 2774, 3164, 9, -3, 0, 14, (1538, 3225), "lower right")
lime_panel(lime_lgbm_labels, lime_lgbm_values, "LGBM", 624, 3274, (195, 3291, 1031, 3739), (-0.02292, 0.04088), [-.02, -.01, 0, .01, .02, .03, .04], ["-0.02", "-0.01", "0.00", "0.01", "0.02", "0.03", "0.04"], 3319, 3709, 10, -2, 0, 14, (582, 3768), "lower right")
lime_panel(lime_xgb_labels, lime_xgb_values, "XGBoost", 1607, 3275, (1188, 3291, 2024, 3738), (-0.0887, 0.2917), [-.05, 0, .05, .1, .15, .2, .25], ["-0.05", "0.00", "0.05", "0.10", "0.15", "0.20", "0.25"], 3319, 3709, 11, -3, -6, 16, (1563, 3770), "lower right")
put(673, 3348, "Weight Average Feature Importance", 13.5)

# Venn diagram, drawn on the pixel canvas, yellow at the back and orange on top
ellipses = [((2933, 415), 600, 332, -45, "#ffbf1f"), ((2677, 415), 600, 332, 45, "#2a8cff"),
            ((2807, 325), 580, 232, -45, "#40c880"), ((2797, 327), 610, 216, 45, "#ff8a14")]
for center, w, h, ang, col in ellipses:
    canvas.add_patch(Ellipse(center, w, h, angle=ang, facecolor=col, alpha=0.5, edgecolor="none"))
for center, w, h, ang, col in ellipses:
    canvas.add_patch(Ellipse(center, w, h, angle=ang, fill=False, edgecolor="#111111", lw=1.6))
venn_xy = [(2531, 320), (2675, 160), (2931, 159), (3075, 320), (2642, 244), (2804, 228), (2966, 244), (2719, 320), (2888, 320), (2650, 456), (2804, 414), (2956, 456), (2740, 490), (2867, 490), (2804, 574)]
for (x, y), n in zip(venn_xy, venn_counts):
    put(x, y, str(n), 25, family="Liberation Serif", color="#222222")
venn_label_xy = [(2484, 140), (2676, 65), (2931, 65), (3124, 140)]
venn_label_col = ["#3f93e8", "#e8842c", "#4fc08d", "#f0c858"]
for (x, y), s, c in zip(venn_label_xy, venn_names, venn_label_col):
    put(x, y, s, 21.5, family="Liberation Serif", weight="bold", color=c)
canvas.add_patch(Rectangle((3030, 558), 302, 162, fill=False, edgecolor="#70ad47", lw=5.5))
for y, s in zip([603, 640, 677], venn_box_lines):
    put(3094, y, s, 22, ha="left", color="#333333")
canvas.annotate("", xy=(3030, 634), xytext=(2814, 440),
                arrowprops=dict(arrowstyle="-|>,head_length=1.4,head_width=0.7", color="#70ad47", lw=2.6, mutation_scale=30, shrinkA=0, shrinkB=0))


def upset_panel(sizes, inter, members, bar_box, y_max, yticks, first_x, step, bar_width, mat_top, mat_bottom, set_box, set_ticks_x, name_x, ylab_xy, setlab_xy, count_size):
    left, top, right, bottom = bar_box
    ax = px_axes(left, top, right, bottom)
    xs = list(range(len(inter)))
    sns.barplot(x=xs, y=inter, color=upset_blue, saturation=1, width=bar_width, ax=ax)
    ax.bar_label(ax.containers[0], padding=3, fontsize=count_size, color="#9db9dc")
    xlim = ((left - first_x) / step, (right - first_x) / step)
    ax.set_xlim(*xlim)
    ax.set_ylim(0, y_max)
    ax.set_xticks([])
    ax.set_yticks(yticks)
    ax.tick_params(axis="y", length=4, pad=3, labelsize=11.5, labelcolor="#555555", left=True, color="#333333")
    sns.despine(ax=ax)
    for sp in ["left", "bottom"]:
        ax.spines[sp].set_color("#222222")
        ax.spines[sp].set_linewidth(1.6)
    canvas.plot([left, left], [bottom, bottom + 12], color="#222222", lw=1.6)
    put(ylab_xy[0], ylab_xy[1], "Intersection Size", 13, rotation=90)

    m = px_axes(left, mat_top, right, mat_bottom)
    m.set_xlim(*xlim)
    m.set_ylim(7.5, -0.5)
    m.axis("off")
    for i in [1, 3, 5, 7]:
        m.axhspan(i - 0.5, i + 0.5, color="#f4f4f4", lw=0)
    gx, gy = np.meshgrid(xs, range(8))
    sns.scatterplot(x=gx.ravel(), y=gy.ravel(), color="#e2e2e2", s=78, linewidth=0, ax=m, legend=False)
    mx = [c for c, row in enumerate(members) for _ in row]
    my = [r for row in members for r in row]
    m.vlines(xs, [min(r) for r in members], [max(r) for r in members], color=dot_blue, lw=2.4, zorder=3)
    sns.scatterplot(x=mx, y=my, color=dot_blue, s=90, linewidth=0, ax=m, legend=False, zorder=4)
    m.set_xlim(*xlim)
    m.set_ylim(7.5, -0.5)

    s0, s1, x20, x0 = set_box[0], set_box[1], set_ticks_x[0], set_ticks_x[1]
    unit = (x0 - x20) / 20
    sz = px_axes(s0, mat_top, s1, mat_bottom)
    sns.barplot(x=sizes, y=set_names, color="#e38a76", saturation=1, width=0.48, orient="h", ax=sz)
    sz.set_xlim(20 + (x20 - s0) / unit, (x0 - s1) / unit)
    sz.set_ylim(7.5, -0.5)
    sz.set_xticks([20, 15, 10, 5, 0])
    sz.set_yticks([])
    sz.set_xlabel("")
    sz.set_ylabel("")
    sz.tick_params(axis="x", length=3, pad=3, labelsize=11.5, labelcolor="#555555", bottom=True)
    sns.despine(ax=sz, left=True)
    sz.spines["bottom"].set_color("#333333")
    step_y = (mat_bottom - mat_top) / 8
    for i, name in enumerate(set_names):
        put(name_x, mat_top + step_y * (i + 0.5), name, 12.5, color="#333333")
    put(setlab_xy[0], setlab_xy[1], "Set Size", 13, color="#333333")


def table_panel(labels, matrix, scores, left, top, label_w, cell_w, score_w, row_h, size, head_size, lw):
    n = len(labels)
    bottom = top + n * row_h
    white = ListedColormap(["white"])
    txt = dict(fontsize=size, color="#444444")
    a = px_axes(left, top, left + label_w, bottom)
    sns.heatmap(np.zeros((n, 1)), annot=np.array(labels)[:, None], fmt="", cmap=white, cbar=False, linewidths=lw, linecolor="black",
                xticklabels=False, yticklabels=False, annot_kws=txt, ax=a)
    b = px_axes(left + label_w, top, left + label_w + 8 * cell_w, bottom)
    sns.heatmap(np.array(matrix), annot=True, fmt="d", vmin=0, vmax=1, cmap=ListedColormap(["#5484c4", "#f9626a"]), cbar=False,
                linewidths=lw, linecolor="black", xticklabels=table_cols, yticklabels=False, annot_kws=txt, ax=b)
    c = px_axes(left + label_w + 8 * cell_w, top, left + label_w + 8 * cell_w + score_w, bottom)
    sns.heatmap(np.array(scores)[:, None], annot=True, fmt="d", cmap=white, cbar=False, linewidths=lw, linecolor="black",
                xticklabels=["Score"], yticklabels=False, annot_kws=txt, ax=c)
    for t in (a, b, c):
        for sp in t.spines.values():
            sp.set_visible(True)
            sp.set_color("black")
            sp.set_linewidth(2.0)
    for t in (b, c):
        t.xaxis.tick_top()
        t.tick_params(axis="x", length=0, pad=3, labelsize=head_size, rotation=90)
        for lab in t.get_xticklabels():
            lab.set_ha("center")
            lab.set_va("bottom")


upset_panel(shapley_sizes, shapley_inter, shapley_members, (2562, 864, 3351, 1689), 18.46, [0, 5, 10, 15], 2583.6, 22.6, 0.58, 1702, 2004, (2160, 2433), (2171, 2420), 2489, (2431, 1296), (2296, 2045), 9)
canvas.plot([2566, 2566], [785, 845], color="#333333", lw=1.6)
table_panel(shapley_tbl_labels, shapley_tbl, shapley_scores, 2641, 1083, 143.5, 62.5, 62.5, 29.75, 15.5, 16.5, 1.5)

upset_panel(lime_sizes, lime_inter, lime_members, (2552, 2100, 3343, 2924), 5.77, [0, 2, 4], 2572, 19.27, 0.68, 2938, 3239, (2151, 2423), (2163, 2412), 2482, (2423, 2532), (2287, 3280), 9)
table_panel(lime_tbl_labels, lime_tbl, lime_scores, 2662, 2262, 115, 64.4, 64, 23.7, 13, 16.5, 1.1)

# Letters and side titles
for x, y, s in [(88, 65, "A"), (87, 1604, "B"), (2170, 65, "C"), (2177, 789, "D"), (2170, 2104, "E")]:
    put(x, y, s, 53)
put(2248, 385, "Importance", 53, rotation=90)
put(2275, 1328, "Shapley", 53, rotation=90)
put(2316, 2502, "LIME", 52, rotation=90)

fig.savefig("out.png", dpi=100, facecolor="white")
